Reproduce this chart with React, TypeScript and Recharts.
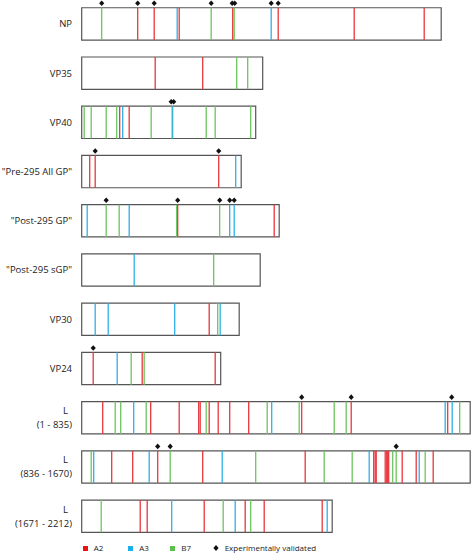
import { ComposedChart, XAxis, YAxis, ReferenceArea, ReferenceLine, Scatter } from 'recharts';

// Row labels (top to bottom) and protein segment lengths (approx. residues)
const labels = [
  'NP', 'VP35', 'VP40', '"Pre-295 All GP"', '"Post-295 GP"', '"Post-295 sGP"',
  'VP30', 'VP24', 'L\n(1 - 835)', 'L\n(836 - 1670)', 'L\n(1671 - 2212)',
];
const lengths = [719, 362, 348, 319, 395, 357, 315, 278, 777, 777, 501];

// Epitope start positions per row, by HLA supertype
const a2 = [
  [112, 145, 195, 302, 393, 545, 685],
  [147, 242],
  [76, 95],
  [16, 27, 274],
  [192, 385],
  [],
  [255],
  [23, 121, 267],
  [42, 138, 195, 234, 237, 255, 273, 296, 334, 440, 539, 732],
  [60, 102, 152, 242, 447, 584, 587, 589, 607, 610, 612, 614, 641, 669, 703],
  [117, 131, 245, 327, 365, 481],
];
const a3 = [
  [191, 379],
  [],
  [82, 181],
  [308],
  [11, 95, 296, 305],
  [105],
  [27, 53, 186, 277],
  [71],
  [104, 380, 727, 741],
  [24, 135, 281, 575, 675],
  [180, 307, 491],
];
const b7 = [
  [40, 259, 305],
  [310, 332],
  [5, 19, 49, 70, 139, 182, 249, 267, 338],
  [],
  [49, 75, 190, 276],
  [264],
  [272],
  [99, 125],
  [67, 78, 129, 249, 371, 435, 505, 529, 756],
  [19, 177, 348, 485, 541, 622, 629, 687],
  [39, 283, 338],
];
const validated = [
  [40, 112, 145, 259, 301, 306, 379, 393],
  [],
  [179, 184],
  [27, 274],
  [49, 192, 276, 296, 305],
  [],
  [],
  [23],
  [440, 539, 740],
  [152, 177, 629],
  [],
];

const COLORS = { a2: '#e8373c', a3: '#2fb0e8', b7: '#6cc65f' };
const LEGEND_COLORS = { a2: '#ee1111', a3: '#1ab0ee', b7: '#5cc04e' };
const HALF = 0.328;
const FONT = '"Open Sans", sans-serif';

const rows = labels.map((_, i) => i);
const validPoints = validated.flatMap((xs, i) => xs.map(x => ({ x, y: i - HALF - 0.09 })));

const groups = [
  { key: 'b7', data: b7 },
  { key: 'a3', data: a3 },
  { key: 'a2', data: a2 },
];

function RowLabel(props: any) {
  const { x, y, payload } = props;
  const parts = labels[payload.value].split('\n');
  const style = { fontFamily: FONT, fontSize: 9.5, fill: '#222' };
  if (parts.length === 1) {
    return <text x={x} y={y} dy={3.4} textAnchor="end" style={style}>{parts[0]}</text>;
  }
  return (
    <g>
      <text x={x - 4} y={y - 7} dy={3.4} textAnchor="end" style={style}>{parts[0]}</text>
      <text x={x} y={y + 7} dy={3.4} textAnchor="end" style={style}>{parts[1]}</text>
    </g>
  );
}

function Diamond(props: any) {
  const { cx, cy } = props;
  return <path d={`M${cx},${cy - 2.8}L${cx + 2.6},${cy}L${cx},${cy + 2.8}L${cx - 2.6},${cy}Z`} fill="#111" />;
}

function LegendItem({ color, label, width, diamond }: any) {
  return (
    <div style={{ display: 'flex', alignItems: 'center', width }}>
      {diamond ? (
        <svg width={6} height={6} style={{ marginRight: 6 }}>
          <path d="M3,0L5.6,3L3,6L0.4,3Z" fill="#111" />
        </svg>
      ) : (
        <div style={{ width: 5, height: 5, background: color, marginRight: 6 }} />
      )}
      <span>{label}</span>
    </div>
  );
}

export default function App() {
  return (
    <div style={{ position: 'absolute', left: 0, top: 0, width: 472, height: 554, background: '#fff' }}>
      <ComposedChart width={472} height={554} margin={{ top: 0, right: 0.3, bottom: 0, left: 0 }} data={validPoints}>
        <XAxis type="number" dataKey="x" domain={[0, 780]} hide allowDataOverflow />
        <YAxis
          type="number"
          dataKey="y"
          domain={[-0.4855, 10.768]}
          reversed
          allowDataOverflow
          width={81.7}
          ticks={rows}
          interval={0}
          axisLine={false}
          tickLine={false}
          tickMargin={3.7}
          tick={<RowLabel />}
        />
        {rows.map(i => (
          <ReferenceArea
            key={`box-${i}`}
            x1={0}
            x2={lengths[i]}
            y1={i - HALF}
            y2={i + HALF}
            fill="#fff"
            fillOpacity={1}
            stroke="#555"
            strokeWidth={1.2}
          />
        ))}
        {groups.map(g =>
          g.data.map((xs, i) =>
            xs.map((x, j) => (
              <ReferenceLine
                key={`${g.key}-${i}-${j}`}
                segment={[{ x, y: i - HALF }, { x, y: i + HALF }]}
                stroke={COLORS[g.key as keyof typeof COLORS]}
                strokeWidth={1.3}
              />
            ))
          )
        )}
        <Scatter data={validPoints} dataKey="y" shape={<Diamond />} isAnimationActive={false} />
      </ComposedChart>
      <div
        style={{
          position: 'absolute', left: 82.7, top: 542, display: 'flex', alignItems: 'center',
          fontFamily: FONT, fontSize: 8, color: '#222', lineHeight: '12px',
        }}
      >
        <LegendItem color={LEGEND_COLORS.a2} label="A2" width={45.6} />
        <LegendItem color={LEGEND_COLORS.a3} label="A3" width={42} />
        <LegendItem color={LEGEND_COLORS.b7} label="B7" width={42.4} />
        <LegendItem diamond label="Experimentally validated" />
      </div>
    </div>
  );
}
